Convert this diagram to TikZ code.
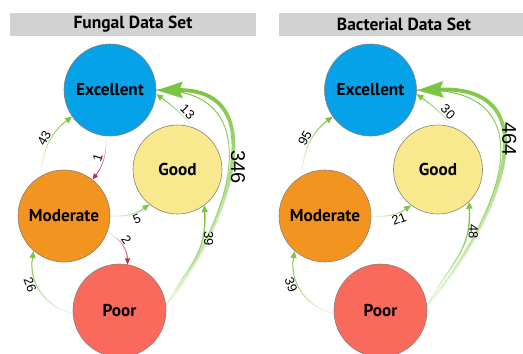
\documentclass[tikz,border=0pt]{standalone}
\usepackage{fontspec}
\setmainfont{PT Sans}
\newfontfamily\numfont{Liberation Sans}
\usetikzlibrary{arrows.meta,fadings}

\definecolor{excblue}{RGB}{5,162,234}
\definecolor{goodyellow}{RGB}{248,232,142}
\definecolor{modorange}{RGB}{244,148,32}
\definecolor{poorred}{RGB}{250,106,92}
\definecolor{rimgray}{RGB}{135,130,120}
\definecolor{bargray}{RGB}{210,210,210}
\definecolor{linkgreen}{RGB}{122,196,64}
\definecolor{linkred}{RGB}{200,40,60}

% edges fade in from their source towards their target
\tikzfading[name=edgefade, left color=transparent!85, right color=transparent!0]
\tikzfading[name=thickfade, left color=transparent!100, middle color=transparent!10, right color=transparent!0]

\begin{document}
\begin{tikzpicture}[x=1pt,y=1pt,
  state/.style={circle, draw=rimgray, line width=0.6pt, inner sep=0pt,
    font=\bfseries\fontsize{17.2}{19}\selectfont},
  header/.style={fill=bargray, inner sep=0pt, font=\bfseries\fontsize{17.5}{19}\selectfont},
  lbl/.style={font=\numfont\fontsize{13}{14}\selectfont, inner sep=1.5pt},
  biglbl/.style={font=\numfont\fontsize{20}{22}\selectfont, inner sep=2pt},
  glink/.style={draw=linkgreen, line width=1pt, path fading=edgefade,
    -{Triangle[length=7pt,width=6pt]}},
  rlink/.style={draw=linkred, line width=0.8pt, path fading=edgefade,
    -{Triangle[length=6pt,width=5pt]}},
  flow/.style={draw=linkgreen, line width=1pt, path fading=edgefade},
  bigflow/.style={draw=linkgreen, line width=3.8pt, path fading=thickfade,
    -{Stealth[length=26pt,width=16pt,inset=3pt]}},
]
\useasboundingbox (0,0) rectangle (523,-354);

% ---------- headers ----------
\node[header, minimum width=246pt, minimum height=23pt] (fHead) at (133,-24.5) {Fungal Data Set};
\node[header, minimum width=250pt, minimum height=23pt] (bHead) at (404,-24.5) {Bacterial Data Set};

% ---------- fungal states ----------
\node[state, fill=excblue, minimum size=92pt] (fE) at (110,-90) {Excellent};
\node[state, fill=goodyellow, minimum size=89pt] (fG) at (177.5,-169.5) {Good};
\node[state, fill=modorange, minimum size=92pt] (fM) at (64,-216) {Moderate};
\node[state, fill=poorred, minimum size=93pt] (fP) at (119.5,-310.5) {Poor};

% ---------- bacterial states ----------
\node[state, fill=excblue, minimum size=92pt] (bE) at (370.5,-90) {Excellent};
\node[state, fill=goodyellow, minimum size=89pt] (bG) at (438,-169.5) {Good};
\node[state, fill=modorange, minimum size=92pt] (bM) at (325,-216) {Moderate};
\node[state, fill=poorred, minimum size=93pt] (bP) at (380.5,-310.5) {Poor};

% ---------- fungal transitions ----------
\draw[glink, fading angle=63] (fM.120) to[bend left=25] (fE.215);
\draw[rlink, fading angle=-107] (fE.265) to[bend left=20] (fM.52);
\draw[glink, fading angle=140] (fG.68) to[bend right=6] (fE.-5);
\draw[flow, fading angle=90] (fP.6) .. controls +(62,80) and +(118,1) .. (fE.0);
\draw[bigflow, fading angle=90] (fP.6) .. controls +(62,80) and +(118,1) .. (fE.0);
\draw[glink, line width=1.4pt, fading angle=70] (fP.6) .. controls +(25,45) and +(2,-50) .. (fG.-53);
\draw[glink, fading angle=17] (fM.0) to[bend right=20] (fG.231);
\draw[rlink, fading angle=-57] (fM.-20) to[bend left=30] (fP.80);
\draw[glink, fading angle=122] (fP.184) .. controls +(-30,8) and +(-5,-30) .. (fM.229);

% fungal counts
\path (fM.120) to[bend left=25] node[lbl, sloped, above, pos=.52] (fL43) {43} (fE.215);
\path (fE.265) to[bend left=20] node[lbl, sloped, above, pos=.5] (fL1) {1} (fM.52);
\path (fG.68) to[bend right=6] node[lbl, sloped, above, pos=.3] (fL13) {13} (fE.-5);
\path (fP.6) .. controls +(62,80) and +(118,1) .. (fE.0)
  node[biglbl, pos=.5, anchor=south, rotate=-90] (fL346) {346};
\path (fP.6) .. controls +(25,45) and +(2,-50) .. (fG.-53)
  node[lbl, pos=.72, anchor=south, rotate=-90] (fL39) {39};
\path (fM.0) to[bend right=20] node[lbl, sloped, below, pos=.6] (fL5) {5} (fG.231);
\path (fM.-20) to[bend left=30] node[lbl, sloped, above, pos=.45] (fL2) {2} (fP.80);
\path (fP.184) .. controls +(-30,8) and +(-5,-30) .. (fM.229)
  node[lbl, sloped, below, pos=.62] (fL26) {26};

% ---------- bacterial transitions ----------
\draw[glink, fading angle=63] (bM.120) to[bend left=25] (bE.215);
\draw[glink, fading angle=140] (bG.68) to[bend right=6] (bE.-5);
\draw[flow, fading angle=90] (bP.6) .. controls +(71,85) and +(137,5) .. (bE.0);
\draw[bigflow, fading angle=90] (bP.6) .. controls +(71,85) and +(137,5) .. (bE.0);
\draw[glink, line width=1.4pt, fading angle=70] (bP.6) .. controls +(25,45) and +(2,-50) .. (bG.-46);
\draw[glink, fading angle=17] (bM.0) to[bend right=20] (bG.233);
\draw[glink, fading angle=122] (bP.184) .. controls +(-30,8) and +(-5,-30) .. (bM.229);

% bacterial counts
\path (bM.120) to[bend left=25] node[lbl, sloped, above, pos=.52] (bL95) {95} (bE.215);
\path (bG.68) to[bend right=6] node[lbl, sloped, above, pos=.3] (bL30) {30} (bE.-5);
\path (bP.6) .. controls +(71,85) and +(137,5) .. (bE.0)
  node[biglbl, pos=.6, anchor=south, rotate=-90] (bL464) {464};
\path (bP.6) .. controls +(25,45) and +(2,-50) .. (bG.-46)
  node[lbl, pos=.76, anchor=south, rotate=-90] (bL48) {48};
\path (bM.0) to[bend right=20] node[lbl, sloped, below, pos=.62] (bL21) {21} (bG.233);
\path (bP.184) .. controls +(-30,8) and +(-5,-30) .. (bM.229)
  node[lbl, sloped, below, pos=.62] (bL39) {39};
\end{tikzpicture}
\end{document}
